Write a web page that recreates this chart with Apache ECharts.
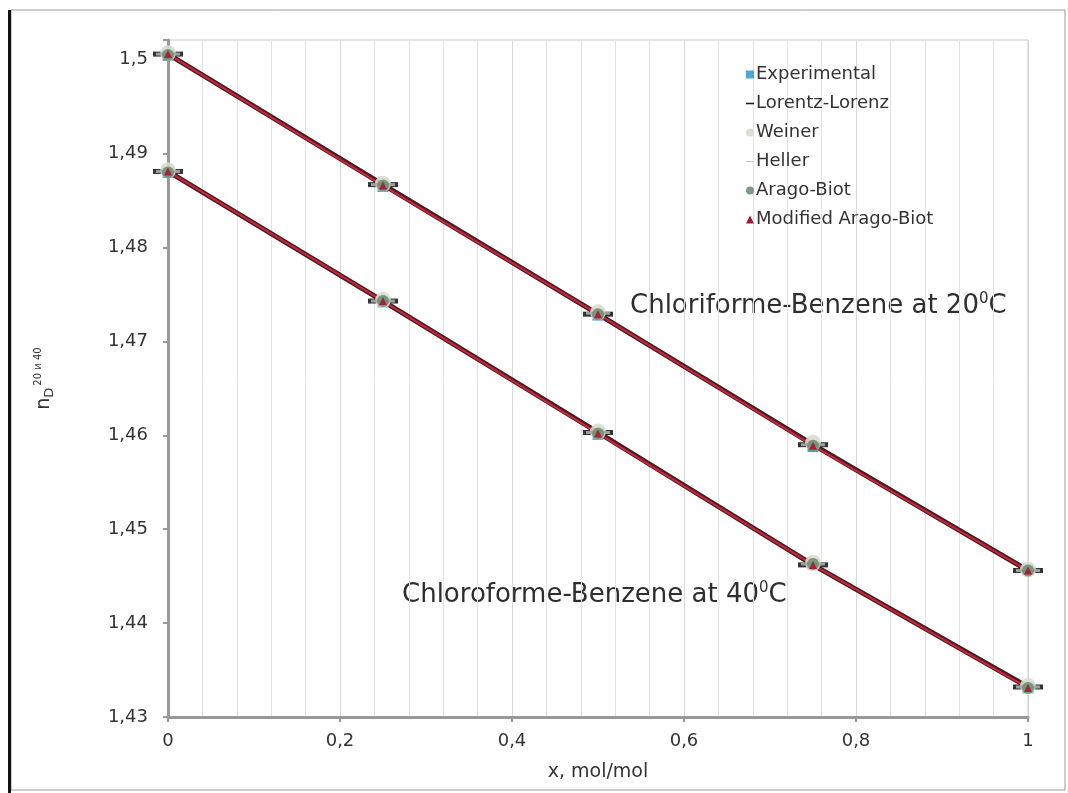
<!DOCTYPE html>
<html><head><meta charset="utf-8">
<script src="https://cdn.jsdelivr.net/npm/echarts@6/dist/echarts.min.js"></script>
<style>html,body{margin:0;padding:0;background:#fff}#c{width:1068px;height:793px}</style>
</head><body><div id="c"></div>
<script>
const xVals = [0, 0.25, 0.5, 0.75, 1];
const seriesNames = ['Experimental','Lorentz-Lorenz','Weiner','Heller','Arago-Biot','Modified Arago-Biot'];
const exp20 = [1.5005, 1.4865, 1.4728, 1.4588, 1.4457];
const exp40 = [1.4880, 1.4742, 1.4601, 1.4463, 1.4331];
const lorentz20 = [1.5006, 1.4867, 1.4729, 1.4590, 1.4456];
const lorentz40 = [1.4881, 1.4743, 1.4603, 1.4462, 1.4332];
const weiner20 = [1.5007, 1.4868, 1.4731, 1.4592, 1.4457];
const weiner40 = [1.4882, 1.4744, 1.4604, 1.4464, 1.4333];
const heller20 = [1.5006, 1.4867, 1.4730, 1.4590, 1.4456];
const heller40 = [1.4881, 1.4743, 1.4603, 1.4463, 1.4332];
const arago20 = [1.5005, 1.4866, 1.4729, 1.4589, 1.4456];
const arago40 = [1.4880, 1.4743, 1.4602, 1.4463, 1.4331];
const modArago20 = [1.5006, 1.4866, 1.4729, 1.4589, 1.4456];
const modArago40 = [1.4881, 1.4743, 1.4602, 1.4462, 1.4331];
const yTicks = [1.43, 1.44, 1.45, 1.46, 1.47, 1.48, 1.49, 1.5];
const xTicks = [0, 0.2, 0.4, 0.6, 0.8, 1];
const label20 = 'Chloriforme-Benzene at 20';
const label40 = 'Chloroforme-Benzene at 40';

const FONT = 'DejaVu Sans, Liberation Sans, sans-serif';
const pairs = v => xVals.map((x, i) => [x, v[i]]);
const fmtComma = v => String(+v.toFixed(3)).replace('.', ',');

const styles = {
  'Experimental': {symbol: 'rect', symbolSize: 11, color: '#3d9bd3'},
  'Lorentz-Lorenz': {symbol: 'rect', symbolSize: [30, 5], color: '#1e1e1e'},
  'Weiner': {symbol: 'circle', symbolSize: 16, color: '#d9dccb'},
  'Heller': {symbol: 'rect', symbolSize: [24, 3], color: '#a8a8a8'},
  'Arago-Biot': {symbol: 'circle', symbolSize: 12, color: '#6f8f78'},
  'Modified Arago-Biot': {symbol: 'triangle', symbolSize: 8, color: '#a8182c'}
};
const dataMap = {
  'Experimental': [exp20, exp40],
  'Lorentz-Lorenz': [lorentz20, lorentz40],
  'Weiner': [weiner20, weiner40],
  'Heller': [heller20, heller40],
  'Arago-Biot': [arago20, arago40],
  'Modified Arago-Biot': [modArago20, modArago40]
};

const series = [];
['Lorentz-Lorenz', 'Modified Arago-Biot'].forEach(n => {
  dataMap[n].forEach(arr => {
    series.push({
      name: n, type: 'line', data: pairs(arr), showSymbol: false, silent: true,
      lineStyle: n === 'Lorentz-Lorenz' ? {color: '#4a1a22', width: 5} : {color: '#c8283a', width: 2},
      itemStyle: {color: styles[n].color}, z: n === 'Lorentz-Lorenz' ? 2 : 3
    });
  });
});
seriesNames.forEach((n, k) => {
  dataMap[n].forEach(arr => {
    const s = styles[n];
    series.push({
      name: n, type: 'scatter', data: pairs(arr), symbol: s.symbol, symbolSize: s.symbolSize,
      itemStyle: {color: s.color, opacity: 0.9}, z: 4 + k
    });
  });
});

const annRich = {
  t: {fontSize: 26, fill: '#2e2e2e', fontFamily: FONT},
  s: {fontSize: 15, fill: '#2e2e2e', verticalAlign: 'top', padding: [0, 0, 13, 0], fontFamily: FONT}
};

const chart = echarts.init(document.getElementById('c'));
chart.setOption({
  animation: false,
  backgroundColor: '#fff',
  textStyle: {fontFamily: FONT},
  grid: {left: 168, right: 40, top: 40, bottom: 76, show: true, borderColor: '#c8c8c8', borderWidth: 1},
  legend: {
    orient: 'vertical', left: 741, top: 60, itemGap: 10, itemWidth: 8, itemHeight: 8,
    textStyle: {fontSize: 18, lineHeight: 19, color: '#333', fontFamily: FONT, padding: [0, 0, 0, -3]},
    data: [
      {name: 'Experimental', icon: 'rect'},
      {name: 'Lorentz-Lorenz', icon: 'path://M0,4H10V6H0Z'},
      {name: 'Weiner', icon: 'circle'},
      {name: 'Heller', icon: 'path://M0,4.5H10V5.5H0Z'},
      {name: 'Arago-Biot', icon: 'circle'},
      {name: 'Modified Arago-Biot', icon: 'triangle'}
    ]
  },
  xAxis: {
    type: 'value', min: xTicks[0], max: xTicks[xTicks.length - 1], interval: 0.2,
    name: 'x, mol/mol', nameLocation: 'middle', nameGap: 46,
    nameTextStyle: {fontSize: 19, color: '#333', fontFamily: FONT},
    axisLine: {show: true, lineStyle: {color: '#999', width: 3}},
    axisTick: {show: true, length: 5, lineStyle: {color: '#999', width: 2}},
    axisLabel: {fontSize: 18, color: '#333', margin: 15, fontFamily: FONT, formatter: v => fmtComma(v)},
    splitLine: {show: true, lineStyle: {color: '#d8d8d8', width: 1}},
    minorTick: {show: false, splitNumber: 5},
    minorSplitLine: {show: true, lineStyle: {color: '#e2e2e2', width: 1}}
  },
  yAxis: {
    type: 'value', min: yTicks[0], max: 1.5021, interval: 0.01,
    name: '{n|n}{sub|D}{sup|20 и 40}', nameLocation: 'middle', nameGap: 112, nameRotate: 90,
    nameTextStyle: {rich: {
      n: {fontSize: 19, color: '#333', fontFamily: FONT},
      sub: {fontSize: 13, color: '#333', verticalAlign: 'bottom', padding: [10, 0, 0, 0], fontFamily: FONT},
      sup: {fontSize: 10, color: '#333', verticalAlign: 'top', padding: [0, 0, 12, 2], fontFamily: FONT}
    }},
    axisLine: {show: true, lineStyle: {color: '#999', width: 3}},
    axisTick: {show: true, length: 5, lineStyle: {color: '#999', width: 2}},
    axisLabel: {fontSize: 18, color: '#333', margin: 20, fontFamily: FONT,
      formatter: v => (v > 1.5005 ? '' : fmtComma(v))},
    splitLine: {show: false}
  },
  graphic: [
    {type: 'rect', silent: true, shape: {x: 11, y: 10, width: 1054, height: 780},
      style: {fill: 'none', stroke: '#9a9a9a', lineWidth: 1}},
    {type: 'rect', silent: true, shape: {x: 8, y: 10, width: 3, height: 783},
      style: {fill: '#111'}},
    {type: 'text', left: 630, top: 292, style: {text: '{t|' + label20 + '}{s|0}{t|C}', rich: annRich}},
    {type: 'text', left: 402, top: 581, style: {text: '{t|' + label40 + '}{s|0}{t|C}', rich: annRich}}
  ],
  series: series
});
</script></body></html>
